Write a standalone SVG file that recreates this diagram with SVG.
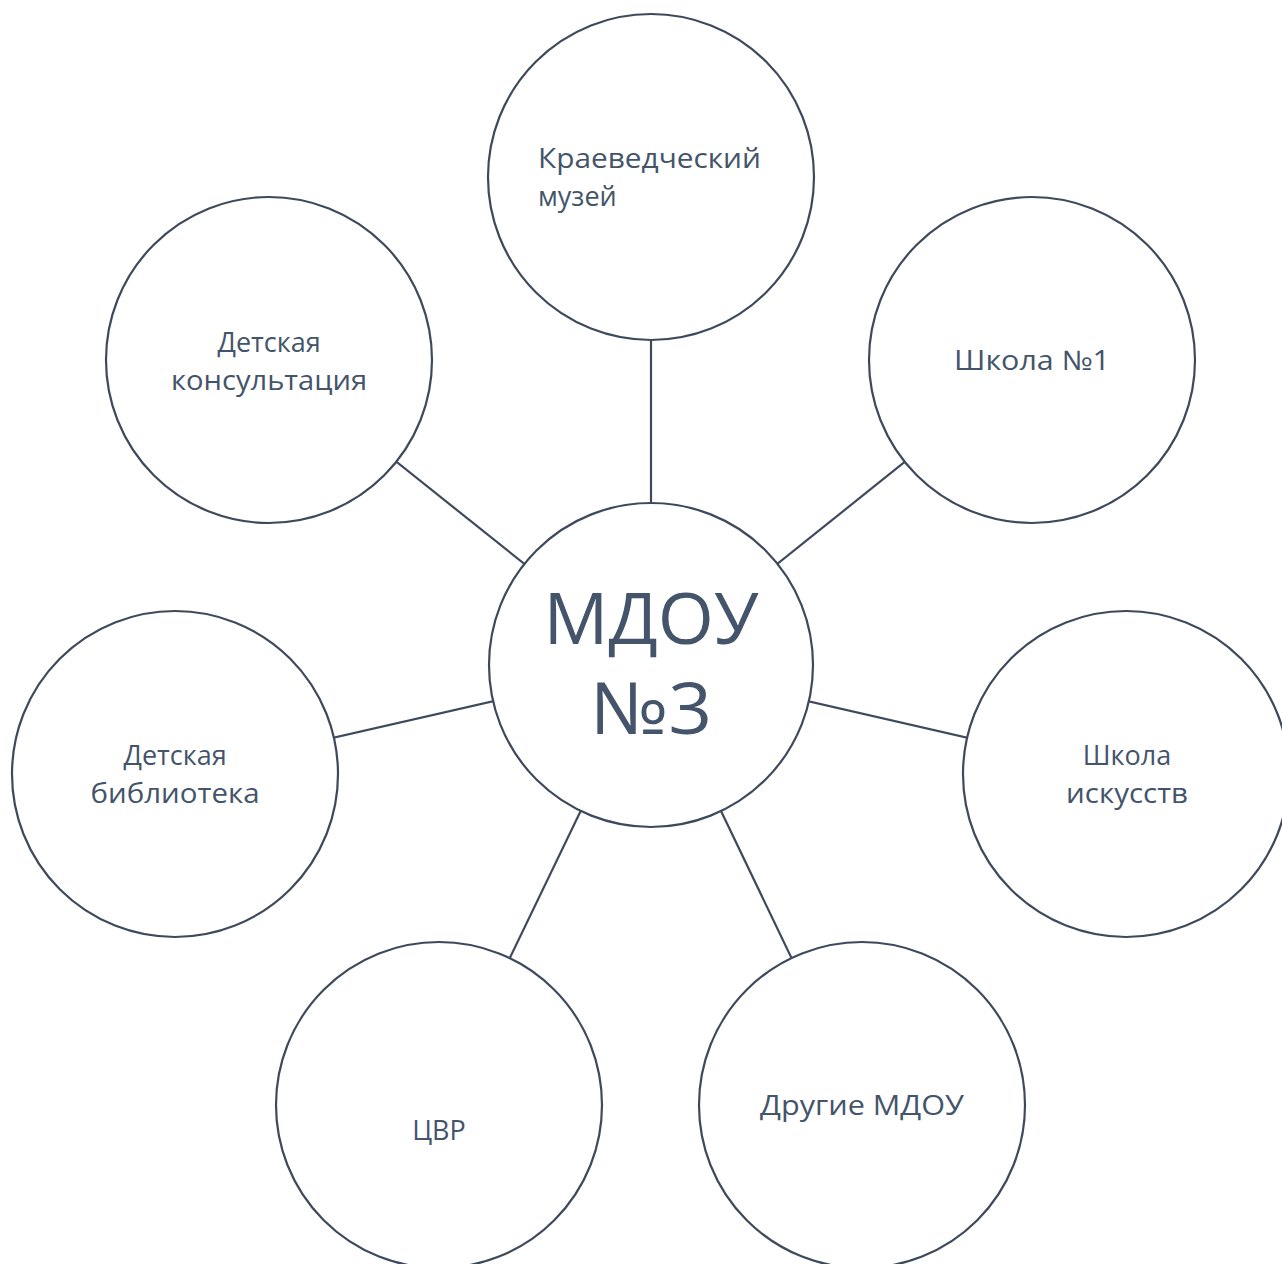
<svg xmlns="http://www.w3.org/2000/svg" width="1282" height="1264" viewBox="0 0 1282 1264">
<style>
.c{fill:#fff;stroke:#3e4a5c;stroke-width:2.2}
.e{stroke:#3e4a5c;stroke-width:2.2}
.t{font-family:"Open Sans","Noto Sans","DejaVu Sans",sans-serif;font-size:27px;fill:#44546a}
.m{text-anchor:middle}
.big{font-family:"Open Sans","Noto Sans","DejaVu Sans",sans-serif;font-size:72px;fill:#44546a;text-anchor:middle}
</style>
<rect width="1282" height="1264" fill="#fff"/>
<g id="connectors">
<line class="e" x1="651" y1="665" x2="651" y2="177"/>
<line class="e" x1="651" y1="665" x2="1032" y2="360"/>
<line class="e" x1="651" y1="665" x2="269" y2="360"/>
<line class="e" x1="651" y1="665" x2="1125" y2="774"/>
<line class="e" x1="651" y1="665" x2="175" y2="774"/>
<line class="e" x1="651" y1="665" x2="439" y2="1105"/>
<line class="e" x1="651" y1="665" x2="862" y2="1105"/>
</g>
<g id="center">
<circle class="c" cx="651" cy="665" r="162"/>
<text class="big" x="651" y="644" textLength="215" lengthAdjust="spacingAndGlyphs">МДОУ</text>
<text class="big" x="651" y="734" textLength="122" lengthAdjust="spacingAndGlyphs">№3</text>
</g>
<g id="kraeved">
<circle class="c" cx="651" cy="177" r="163"/>
<text class="t" x="538" y="168" textLength="223" lengthAdjust="spacingAndGlyphs">Краеведческий</text>
<text class="t" x="538" y="206">музей</text>
</g>
<g id="shkola1">
<circle class="c" cx="1032" cy="360" r="163"/>
<text class="t m" x="1032" y="370" textLength="156" lengthAdjust="spacingAndGlyphs">Школа №1</text>
</g>
<g id="konsult">
<circle class="c" cx="269" cy="360" r="163"/>
<text class="t m" x="269" y="352">Детская</text>
<text class="t m" x="269" y="390" textLength="196" lengthAdjust="spacingAndGlyphs">консультация</text>
</g>
<g id="biblioteka">
<circle class="c" cx="175" cy="774" r="163"/>
<text class="t m" x="175" y="765">Детская</text>
<text class="t m" x="175" y="803" textLength="169" lengthAdjust="spacingAndGlyphs">библиотека</text>
</g>
<g id="iskusstv">
<circle class="c" cx="1126" cy="774" r="163"/>
<text class="t m" x="1127" y="765">Школа</text>
<text class="t m" x="1127" y="803" textLength="122" lengthAdjust="spacingAndGlyphs">искусств</text>
</g>
<g id="cvr">
<circle class="c" cx="439" cy="1105" r="163"/>
<text class="t m" x="439" y="1140">ЦВР</text>
</g>
<g id="drugie">
<circle class="c" cx="862" cy="1105" r="163"/>
<text class="t m" x="862" y="1115" textLength="204" lengthAdjust="spacingAndGlyphs">Другие МДОУ</text>
</g>
</svg>
